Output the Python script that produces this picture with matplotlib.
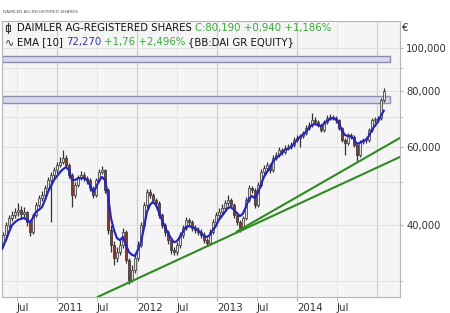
import matplotlib
matplotlib.use("Agg")
import matplotlib.pyplot as plt
import matplotlib.ticker as mticker
import pandas as pd

# weekly-ish candles, Daimler AG (EUR)
closes = [36.1, 38.0, 40.0, 41.5, 42.1, 42.8, 43.3, 42.4, 42.8, 40.6,
          38.6, 42.1, 44.4, 46.0, 46.7, 48.5, 50.5, 51.8, 53.2, 54.6,
          55.5, 56.6, 54.6, 51.8, 46.7, 49.2, 51.0, 51.8, 51.0, 50.5,
          48.5, 46.7, 50.5, 52.6, 53.2, 48.0, 39.0, 36.1, 33.8, 34.8,
          36.1, 38.6, 33.4, 30.1, 31.7, 33.8, 36.1, 40.0, 44.4, 47.5,
          46.7, 45.5, 44.8, 42.1, 40.0, 38.6, 37.0, 35.2, 34.8, 36.1,
          38.0, 39.4, 41.1, 40.6, 39.4, 39.0, 38.6, 38.0, 37.0, 36.5,
          38.6, 40.6, 42.1, 42.8, 43.7, 44.8, 45.5, 44.4, 42.1, 40.6,
          39.4, 41.5, 45.5, 48.5, 48.0, 44.4, 49.2, 52.6, 53.7, 54.6,
          53.2, 56.6, 57.5, 59.0, 58.4, 59.6, 59.9, 60.5, 62.1, 62.8,
          63.4, 64.4, 66.1, 67.1, 68.9, 68.2, 67.1, 65.4, 68.2, 69.6,
          70.0, 69.6, 68.9, 66.1, 62.1, 61.2, 63.8, 63.1, 60.5, 57.5,
          61.5, 62.1, 62.1, 65.4, 68.9, 68.9, 69.6, 76.4, 80.19]
highs = [36.8, 38.6, 40.6, 42.2, 43.0, 43.6, 44.8, 44.2, 44.0, 43.0,
         41.0, 42.6, 45.0, 46.8, 47.6, 49.3, 51.2, 52.6, 54.0, 55.5,
         57.0, 59.0, 57.4, 55.2, 52.3, 49.9, 51.8, 52.8, 52.6, 51.6,
         51.0, 49.0, 51.0, 53.4, 54.2, 53.6, 48.5, 40.0, 36.8, 35.8,
         37.0, 39.4, 39.0, 33.8, 32.5, 34.4, 36.8, 40.6, 45.0, 48.3,
         48.2, 47.2, 46.0, 45.2, 42.6, 40.5, 39.0, 37.5, 35.8, 36.7,
         38.6, 40.0, 41.8, 41.6, 41.0, 40.0, 39.6, 39.2, 38.5, 37.4,
         39.1, 41.2, 42.8, 43.6, 44.5, 45.6, 46.8, 46.0, 44.9, 42.6,
         41.0, 42.0, 46.2, 49.3, 49.0, 48.5, 50.0, 53.4, 54.6, 55.5,
         55.2, 57.4, 58.4, 59.8, 59.6, 60.4, 60.8, 61.4, 63.0, 63.6,
         64.2, 65.2, 67.0, 68.1, 71.4, 69.8, 68.8, 67.6, 68.9, 70.6,
         71.0, 70.8, 70.2, 69.4, 66.6, 62.8, 64.5, 64.4, 63.6, 61.0,
         62.2, 62.9, 63.0, 66.2, 69.7, 69.8, 70.5, 77.2, 81.5]
lows = [35.0, 35.6, 37.5, 39.4, 40.8, 41.4, 42.0, 41.6, 41.5, 39.8,
        37.8, 38.2, 41.7, 43.9, 45.4, 46.1, 47.9, 40.6, 51.0, 52.5,
        53.9, 54.8, 53.9, 51.0, 44.0, 46.0, 48.6, 50.4, 50.2, 49.6,
        47.8, 46.0, 46.2, 50.0, 52.0, 47.2, 38.2, 34.8, 32.6, 33.0,
        34.2, 35.6, 32.8, 29.5, 29.8, 31.2, 33.3, 35.7, 39.5, 43.8,
        46.0, 44.8, 44.0, 41.5, 39.3, 37.9, 36.3, 34.5, 34.2, 34.3,
        35.6, 37.5, 38.9, 40.0, 38.8, 38.4, 38.0, 37.4, 36.4, 35.9,
        36.0, 38.1, 40.1, 41.6, 42.2, 43.2, 44.2, 43.8, 41.5, 40.0,
        38.6, 39.0, 41.0, 45.0, 47.3, 43.6, 44.0, 48.6, 52.0, 53.0,
        52.5, 52.6, 56.0, 56.9, 57.6, 57.8, 59.0, 59.3, 59.9, 61.4,
        60.0, 62.8, 63.8, 65.5, 66.5, 67.4, 66.3, 64.6, 64.9, 67.6,
        69.0, 68.8, 68.0, 65.5, 61.4, 57.5, 60.6, 62.4, 59.8, 55.6,
        57.0, 60.9, 61.3, 61.6, 64.9, 68.0, 68.2, 69.0, 75.8]
ema10 = [34.6, 35.9, 37.0, 38.6, 40.0, 40.6, 41.1, 41.3, 41.5, 41.1,
         40.6, 41.5, 42.8, 43.3, 43.9, 45.5, 47.5, 49.0, 50.5, 51.5,
         52.6, 53.4, 54.0, 53.2, 50.5, 50.5, 51.0, 51.0, 51.0, 50.5,
         49.2, 47.5, 48.5, 50.3, 51.3, 50.5, 46.7, 41.5, 39.0, 37.4,
         37.0, 37.6, 36.1, 34.8, 34.3, 34.1, 35.2, 36.5, 39.4, 42.8,
         44.4, 45.1, 44.4, 42.8, 41.1, 39.6, 38.4, 37.4, 36.6, 36.8,
         37.6, 38.6, 39.6, 39.8, 39.6, 39.4, 39.0, 38.4, 37.8, 37.6,
         38.0, 39.0, 39.8, 41.1, 41.9, 42.8, 43.7, 43.9, 43.3, 42.6,
         41.9, 42.4, 43.9, 45.8, 46.5, 46.0, 47.2, 49.2, 51.3, 52.6,
         53.7, 55.5, 56.6, 57.2, 58.1, 59.0, 59.3, 59.9, 60.9, 62.1,
         63.1, 63.8, 64.7, 66.1, 67.1, 67.5, 67.1, 66.8, 67.5, 68.5,
         69.2, 69.6, 69.2, 67.8, 65.4, 63.8, 63.4, 63.4, 62.5, 60.9,
         61.2, 61.8, 62.1, 63.4, 65.4, 66.8, 68.2, 70.3, 72.27]
opens = [35.5] + closes[:-1]

dates = pd.date_range("2010-04-16", "2015-01-31", periods=len(closes))

# trend lines (start date, start value, end date, end value)
trend_long = (pd.Timestamp("2011-07-07"), 27.6, pd.Timestamp("2015-04-15"), 56.9)
trend_short = (pd.Timestamp("2013-04-01"), 38.7, pd.Timestamp("2015-04-15"), 62.8)

# resistance zones
zone_upper = (93.0, 95.9)
zone_lower = (75.2, 78.0)
zone_end = pd.Timestamp("2015-02-28")

plt.rcParams['font.family'] = ['DejaVu Sans']
fig = plt.figure(figsize=(4.5, 3.13), dpi=100)
ax = fig.add_axes([0.0044, 0.0511, 0.8844, 0.8818])
ax.set_facecolor('#f5f5f5')
ax.set_yscale('log')

x0 = pd.Timestamp("2010-04-25")
x1 = pd.Timestamp("2015-04-15")
ax.set_xlim(x0, x1)
ax.set_ylim(27.57, 115.0)

# grid
for yr in [2011, 2012, 2013, 2014, 2015]:
    ax.axvline(pd.Timestamp(f"{yr}-01-01"), color='#cacaca', lw=0.8, zorder=0)
    ax.axvline(pd.Timestamp(f"{yr - 1}-07-01"), color='#e4e4e4', lw=0.7, zorder=0)
for v in [30, 40, 50, 60, 70, 80, 90, 100]:
    ax.axhline(v, color='#e2e2e2', lw=0.7, zorder=0)

# zones
for lo, hi in [zone_upper, zone_lower]:
    ax.fill_between([x0, zone_end], lo, hi, facecolor='#d8d8ee', edgecolor='#8c8cab', lw=1.0, zorder=1)

# candles
up_x, up_b, up_h, dn_x, dn_b, dn_h = [], [], [], [], [], []
for d, o, c in zip(dates, opens, closes):
    lo, hi = min(o, c), max(o, c)
    if hi - lo < 0.3:
        hi = lo + 0.3
    if c >= o:
        up_x.append(d); up_b.append(lo); up_h.append(hi - lo)
    else:
        dn_x.append(d); dn_b.append(lo); dn_h.append(hi - lo)
ax.vlines(dates, lows, highs, color='#333333', lw=0.9, zorder=2)
ax.bar(up_x, up_h, bottom=up_b, width=9, color='#e4e0dc', edgecolor='#2e2e2e', lw=0.5, zorder=3)
ax.bar(dn_x, dn_h, bottom=dn_b, width=9, color='#8e3a2a', edgecolor='#2e2e2e', lw=0.5, zorder=3)

# EMA
ax.plot(dates, ema10, color='#2626bc', lw=1.6, zorder=4)

# trend lines
for t in [trend_long, trend_short]:
    ax.plot([t[0], t[2]], [t[1], t[3]], color='#2f8a22', lw=1.5, zorder=4)

# axes styling
for s in ax.spines.values():
    s.set_color('#b5b5b5')
    s.set_linewidth(0.8)
ax.yaxis.tick_right()
ax.yaxis.set_major_locator(mticker.FixedLocator([40, 60, 80, 100]))
ax.yaxis.set_minor_locator(mticker.FixedLocator([30, 50, 70, 90]))
ax.yaxis.set_major_formatter(mticker.FuncFormatter(lambda v, p: f"{v:.3f}".replace('.', ',')))
ax.yaxis.set_minor_formatter(mticker.NullFormatter())
ax.tick_params(axis='y', which='both', length=2.5, color='#b5b5b5', labelsize=7.2, labelcolor='#333333', pad=2)

year_ticks = [pd.Timestamp(f"{y}-01-01") for y in [2011, 2012, 2013, 2014]]
jul_ticks = [pd.Timestamp(f"{y}-07-01") for y in [2010, 2011, 2012, 2013, 2014]]
ax.set_xticks(year_ticks)
ax.set_xticklabels([str(d.year) for d in year_ticks])
ax.set_xticks(jul_ticks, minor=True)
ax.set_xticklabels(['Jul'] * len(jul_ticks), minor=True)
ax.tick_params(axis='x', which='both', length=3, color='#b5b5b5', labelsize=7.4, labelcolor='#333333', pad=1)
for lab in ax.get_xticklabels() + ax.get_xticklabels(minor=True):
    lab.set_ha('left')

# header texts
fig.text(0.006, 0.962, "DAIMLER AG-REGISTERED SHARES", fontsize=3.2, color='#555555', va='center')
fig.text(0.894, 0.91, "€", fontsize=7.4, color='#333333', va='center')

renderer = fig.canvas.get_renderer()
inv = fig.transFigure.inverted()


def chain(x, y, parts):
    for s, c in parts:
        t = fig.text(x, y, s, color=c, fontsize=7.3, va='center')
        bb = t.get_window_extent(renderer)
        x = inv.transform((bb.x1 + 3, 0))[0]


chain(0.037, 0.91, [("DAIMLER AG-REGISTERED SHARES", '#111111'),
                    ("C:80,190 +0,940 +1,186%", '#3aa83a')])
chain(0.037, 0.865, [("EMA [10]", '#111111'), ("72,270", '#3535a8'),
                     ("+1,76 +2,496%", '#3aa83a'), ("{BB:DAI GR EQUITY}", '#111111')])
fig.text(0.010, 0.865, "∿", fontsize=8, color='#333333', va='center')
# small candle icon
fig.add_artist(plt.Line2D([0.018, 0.018], [0.893, 0.927], color='#333333', lw=0.8))
fig.add_artist(plt.Rectangle((0.013, 0.900), 0.010, 0.020, facecolor='white', edgecolor='#333333', lw=0.8))

fig.savefig("out.png", dpi=100)
